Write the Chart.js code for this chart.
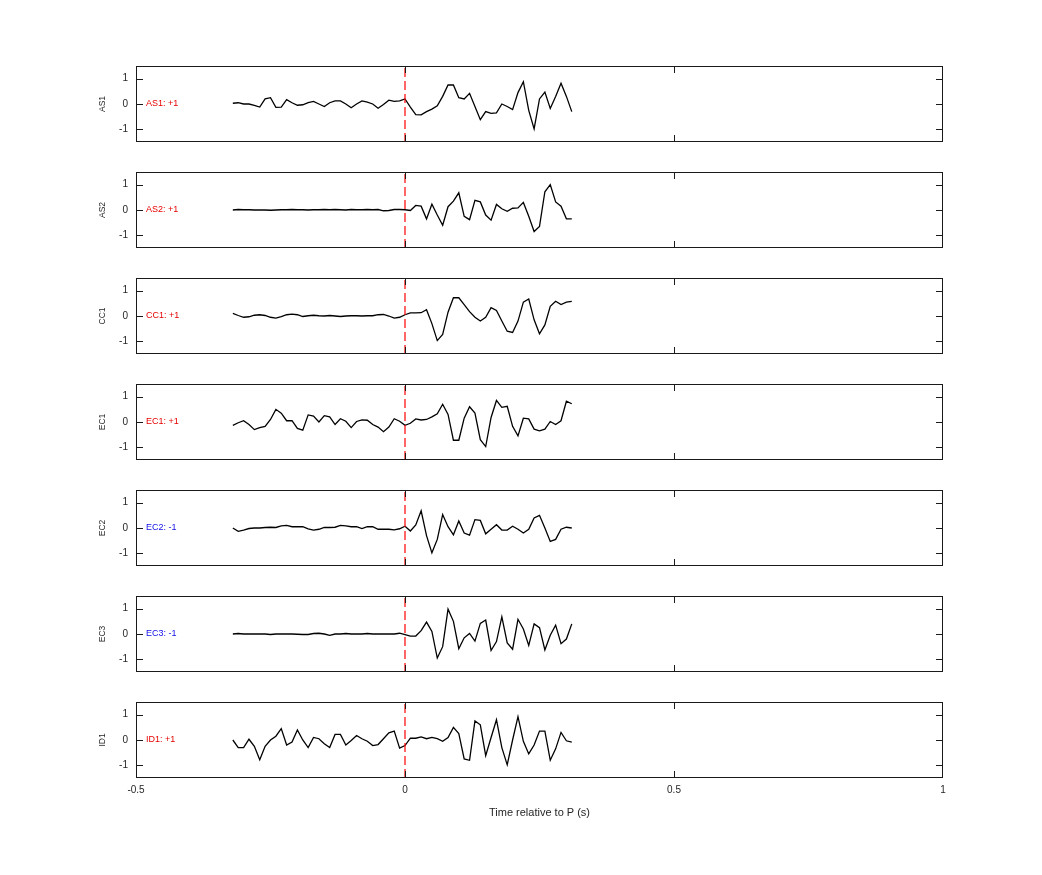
<!DOCTYPE html>
<html>
<head>
<meta charset="utf-8">
<title>Waveforms relative to P</title>
<script src="https://cdn.jsdelivr.net/npm/chart.js@4.4.1/dist/chart.umd.min.js"></script>
<style>
  html, body { margin: 0; padding: 0; background: #fff; }
  #wrap { position: relative; width: 1042px; height: 875px; overflow: hidden; }
  #wrap canvas { position: absolute; left: 0; }
</style>
</head>
<body>
<div id="wrap"></div>
<script>
/* ---------- data ---------- */
const stations   = ['AS1', 'AS2', 'CC1', 'EC1', 'EC2', 'EC3', 'ID1'];
const polarities = ['+1', '+1', '+1', '+1', '-1', '-1', '+1'];

// sample times (s), 100 Hz
const timeSec = [
  -0.32, -0.31, -0.30, -0.29, -0.28, -0.27, -0.26, -0.25, -0.24, -0.23,
  -0.22, -0.21, -0.20, -0.19, -0.18, -0.17, -0.16, -0.15, -0.14, -0.13,
  -0.12, -0.11, -0.10, -0.09, -0.08, -0.07, -0.06, -0.05, -0.04, -0.03,
  -0.02, -0.01, 0.00,
  0.01, 0.02, 0.03, 0.04, 0.05, 0.06, 0.07, 0.08, 0.09, 0.10,
  0.11, 0.12, 0.13, 0.14, 0.15, 0.16, 0.17, 0.18, 0.19, 0.20,
  0.21, 0.22, 0.23, 0.24, 0.25, 0.26, 0.27, 0.28, 0.29, 0.30, 0.31
];

// normalised amplitudes
const traceAS1 = [
  0.03, 0.05, 0, 0, -0.05, -0.12, 0.2, 0.25, -0.13, -0.12,
  0.17, 0.05, -0.05, -0.03, 0.05, 0.1, 0, -0.1, 0.05, 0.12,
  0.12, 0, -0.15, 0, 0.12, 0.07, 0, -0.17, -0.02, 0.15,
  0.1, 0.12, 0.2,
  -0.12, -0.42, -0.43, -0.3, -0.2, -0.07, 0.3, 0.75, 0.75, 0.25,
  0.2, 0.42, -0.1, -0.62, -0.3, -0.37, -0.35, 0, -0.1, -0.22,
  0.45, 0.88, -0.25, -0.98, 0.2, 0.47, -0.18, 0.3, 0.82, 0.3, -0.3
];
const traceAS2 = [
  0, 0.02, 0.01, 0.01, 0, 0, 0, -0.01, 0, 0.01,
  0.01, 0.02, 0.01, 0.01, 0, 0.01, 0.01, 0.02, 0.01, 0.02,
  0.01, 0, 0.02, 0.01, 0.01, 0.02, 0.01, 0.02, -0.03, -0.02,
  0.02, 0.02, 0.01,
  -0.02, 0.18, 0.15, -0.35, 0.23, -0.2, -0.6, 0.13, 0.35, 0.68,
  -0.25, -0.38, 0.38, 0.32, -0.2, -0.4, 0.22, 0.05, -0.05, 0.07,
  0.08, 0.3, -0.25, -0.85, -0.65, 0.72, 1.0, 0.32, 0.15, -0.35, -0.35
];
const traceCC1 = [
  0.1, 0.02, -0.05, -0.03, 0.03, 0.05, 0.02, -0.05, -0.08, -0.02,
  0.05, 0.07, 0.05, -0.02, 0.01, 0.03, 0.01, 0, 0.02, 0,
  -0.02, 0, 0.01, 0.01, 0, 0.01, 0.01, 0.05, 0.06, 0,
  -0.08, -0.05, 0.05,
  0.12, 0.12, 0.13, 0.25, -0.3, -0.97, -0.73, 0.15, 0.72, 0.72,
  0.45, 0.17, -0.05, -0.2, -0.05, 0.33, 0.22, -0.2, -0.6, -0.65,
  -0.2, 0.55, 0.67, -0.15, -0.7, -0.35, 0.38, 0.58, 0.45, 0.55, 0.58
];
const traceEC1 = [
  -0.13, -0.03, 0.05, -0.1, -0.3, -0.22, -0.17, 0.1, 0.5, 0.35,
  0.05, 0.05, -0.25, -0.32, 0.28, 0.23, 0, 0.25, 0.2, -0.1,
  0.13, 0.03, -0.22, 0.02, 0.08, 0.07, -0.1, -0.2, -0.38, -0.2,
  0.13, 0.03, -0.13,
  -0.05, 0.12, 0.08, 0.1, 0.2, 0.32, 0.7, 0.3, -0.72, -0.72,
  0.15, 0.6, 0.35, -0.7, -0.97, 0.18, 0.85, 0.58, 0.62, -0.17,
  -0.55, 0.15, 0.12, -0.28, -0.35, -0.28, 0.02, -0.1, 0.05, 0.82, 0.72
];
const traceEC2 = [
  0, -0.13, -0.08, -0.02, 0, 0, 0.02, 0.03, 0.02, 0.08,
  0.1, 0.05, 0.05, 0.05, -0.03, -0.08, -0.05, 0.02, 0.02, 0.03,
  0.1, 0.08, 0.05, 0.05, -0.02, 0.05, 0.05, -0.05, -0.05, -0.05,
  -0.07, -0.03, 0.07,
  -0.12, 0.12, 0.68, -0.3, -0.98, -0.45, 0.53, 0.05, -0.27, 0.28,
  -0.2, -0.28, 0.33, 0.3, -0.23, -0.05, 0.13, -0.08, -0.08, 0.07,
  -0.05, -0.2, -0.05, 0.4, 0.5, 0, -0.53, -0.45, -0.05, 0.03, 0
];
const traceEC3 = [
  0, 0.02, 0, 0, 0, 0, 0, -0.02, 0, 0,
  0, 0, -0.01, -0.02, -0.02, 0.02, 0.03, 0, -0.05, 0,
  0, 0.02, 0, 0, 0, 0.02, 0, 0, 0, 0,
  0, 0.03, -0.02,
  -0.08, -0.08, 0.13, 0.47, 0.1, -0.95, -0.5, 0.98, 0.5, -0.58,
  -0.15, 0.02, -0.28, 0.42, 0.55, -0.65, -0.3, 0.68, -0.35, -0.6,
  0.58, 0.2, -0.45, 0.4, 0.25, -0.63, -0.05, 0.35, -0.38, -0.2, 0.4
];
const traceID1 = [
  0, -0.3, -0.3, 0.03, -0.25, -0.78, -0.25, 0, 0.15, 0.45,
  -0.2, -0.08, 0.4, 0, -0.3, 0.1, 0.05, -0.15, -0.3, 0.22,
  0.22, -0.2, -0.02, 0.18, 0.05, -0.05, -0.22, -0.18, 0.05, 0.28,
  0.35, -0.32, -0.22,
  0.07, 0.07, 0.12, 0.05, 0.1, 0.05, -0.05, 0.1, 0.5, 0.25,
  -0.75, -0.8, 0.75, 0.6, -0.62, 0.1, 0.8, -0.3, -0.98, 0,
  0.92, -0.05, -0.55, -0.2, 0.35, 0.35, -0.8, -0.35, 0.3, -0.03, -0.08
];

const traces = [traceAS1, traceAS2, traceCC1, traceEC1, traceEC2, traceEC3, traceID1];

// P pick marker (dashed red line)
const pickX = [0, 0];
const pickY = [-1.5, 1.5];

const xTicks = [-0.5, 0, 0.5, 1];
const yTicks = [-1, 0, 1];

/* ---------- layout ---------- */
const FIRST_TOP  = 66;     // top of first panel box
const PANEL_H    = 76;
const PANEL_STEP = 106;
const PAD = 10;
const TEXT = '#262626';

Chart.defaults.font.family = '"Liberation Sans", Arial, Helvetica, sans-serif';
Chart.defaults.color = TEXT;

// box + inward ticks + station label
const framePlugin = {
  id: 'frame',
  afterDraw(chart, args, opts) {
    const { ctx, chartArea: a, scales: { x, y } } = chart;
    const tl = 7;
    ctx.save();
    ctx.strokeStyle = '#1a1a1a';
    ctx.lineWidth = 1;
    ctx.strokeRect(a.left + 0.5, a.top + 0.5, a.right - a.left - 1, a.bottom - a.top - 1);
    ctx.beginPath();
    xTicks.forEach(v => {
      const px = Math.round(x.getPixelForValue(v)) + 0.5;
      if (px < a.left + 2 || px > a.right - 2) return;   // edges are the box itself
      ctx.moveTo(px, a.top); ctx.lineTo(px, a.top + tl);
      ctx.moveTo(px, a.bottom); ctx.lineTo(px, a.bottom - tl);
    });
    yTicks.forEach(v => {
      const py = Math.round(y.getPixelForValue(v)) + 0.5;
      ctx.moveTo(a.left, py); ctx.lineTo(a.left + tl, py);
      ctx.moveTo(a.right, py); ctx.lineTo(a.right - tl, py);
    });
    ctx.stroke();

    ctx.font = '9px "Liberation Sans", Arial, sans-serif';
    ctx.fillStyle = opts.color;
    ctx.textBaseline = 'middle';
    ctx.textAlign = 'left';
    ctx.fillText(opts.label, a.left + 10, y.getPixelForValue(0));
    ctx.restore();
  }
};

const wrap = document.getElementById('wrap');

stations.forEach((name, i) => {
  const last = i === stations.length - 1;
  const panelTop = FIRST_TOP + i * PANEL_STEP;
  const top = panelTop - PAD;
  const h = last ? 875 - top : PANEL_H + 2 * PAD + 8;

  const cv = document.createElement('canvas');
  cv.width = 1042;
  cv.height = h;
  cv.style.top = top + 'px';
  cv.style.width = '1042px';
  cv.style.height = h + 'px';
  wrap.appendChild(cv);

  const trace = traces[i];

  const chart = new Chart(cv, {
    type: 'line',
    data: {
      datasets: [
        {
          data: timeSec.map((t, k) => ({ x: t, y: trace[k] })),
          borderColor: '#000',
          borderWidth: 1.3,
          pointRadius: 0,
          tension: 0,
          order: 1
        },
        {
          data: pickX.map((t, k) => ({ x: t, y: pickY[k] })),
          borderColor: '#ff0000',
          borderWidth: 1.2,
          borderDash: [9, 4],
          pointRadius: 0,
          order: 0
        }
      ]
    },
    options: {
      responsive: false,
      animation: false,
      devicePixelRatio: 1,
      events: [],
      layout: { padding: { left: 94, right: 99, top: PAD, bottom: last ? 51 : PAD } },
      plugins: {
        legend: { display: false },
        tooltip: { enabled: false },
        frame: {
          label: name + ': ' + polarities[i],
          color: polarities[i] === '-1' ? '#1010e6' : '#e60000'
        }
      },
      scales: {
        x: {
          type: 'linear',
          min: -0.5,
          max: 1,
          display: last,
          afterBuildTicks: s => { s.ticks = xTicks.map(v => ({ value: v })); },
          afterFit: s => { s.height = last ? 46 : 0; },
          grid: { display: false, drawTicks: false },
          border: { display: false },
          ticks: { padding: 6, font: { size: 10 }, callback: v => String(v) },
          title: {
            display: true,
            text: 'Time relative to P (s)',
            font: { size: 11 },
            padding: { top: 4, bottom: 4 }
          }
        },
        y: {
          type: 'linear',
          min: -1.5,
          max: 1.5,
          afterBuildTicks: s => { s.ticks = yTicks.map(v => ({ value: v })); },
          afterFit: s => { s.width = 42; },
          grid: { display: false, drawTicks: false },
          border: { display: false },
          ticks: { padding: 8, font: { size: 10 }, callback: v => String(v) },
          title: {
            display: true,
            text: name,
            font: { size: 8.5 },
            padding: { top: 4, bottom: 4 }
          }
        }
      }
    },
    plugins: [framePlugin]
  });

  // make the plot box exactly PANEL_H tall and line it up with the panel top
  const dh = (chart.chartArea.bottom - chart.chartArea.top) - PANEL_H;
  if (dh !== 0) {
    chart.options.layout.padding.bottom += dh;
    chart.update();
  }
  cv.style.top = (panelTop - chart.chartArea.top) + 'px';
});
</script>
</body>
</html>
